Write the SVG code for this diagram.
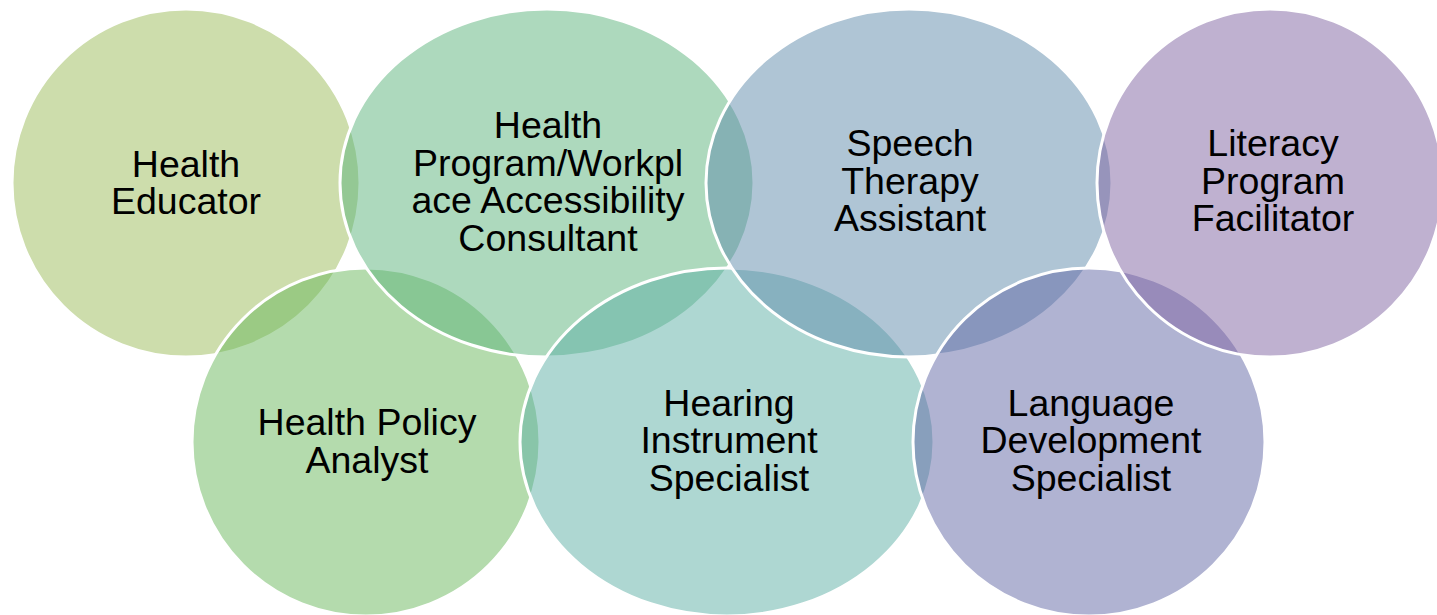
<svg xmlns="http://www.w3.org/2000/svg" width="1437" height="615" viewBox="0 0 1437 615">
<style>
.c{fill-opacity:0.5;stroke:#FFFFFF;stroke-width:3}
.t{font-family:"Liberation Sans",Arial,sans-serif;font-size:37.5px;fill:#000000;text-anchor:middle}
</style>
<rect x="0" y="0" width="1437" height="615" fill="#FFFFFF"/>
<g id="node-health-educator">
<ellipse class="c" cx="186" cy="183" rx="174" ry="174" fill="#9BBB59"/>
<text class="t"><tspan x="186" y="176.5">Health</tspan><tspan x="186" y="214">Educator</tspan></text>
</g>
<g id="node-health-policy-analyst">
<ellipse class="c" cx="366" cy="442" rx="174" ry="174" fill="#69B75B"/>
<text class="t"><tspan x="367" y="435">Health Policy</tspan><tspan x="367" y="472.5">Analyst</tspan></text>
</g>
<g id="node-health-program-consultant">
<ellipse class="c" cx="547" cy="183" rx="207" ry="174" fill="#5CB37C"/>
<text class="t"><tspan x="548" y="138">Health</tspan><tspan x="548" y="175.5">Program/Workpl</tspan><tspan x="548" y="213">ace Accessibility</tspan><tspan x="548" y="250.5">Consultant</tspan></text>
</g>
<g id="node-hearing-instrument-specialist">
<ellipse class="c" cx="727" cy="442" rx="207" ry="174" fill="#5EAFA6"/>
<text class="t"><tspan x="729" y="415.5">Hearing</tspan><tspan x="729" y="453">Instrument</tspan><tspan x="729" y="490.5">Specialist</tspan></text>
</g>
<g id="node-speech-therapy-assistant">
<ellipse class="c" cx="909" cy="183" rx="203" ry="174" fill="#608CAB"/>
<text class="t"><tspan x="910" y="156">Speech</tspan><tspan x="910" y="193.5">Therapy</tspan><tspan x="910" y="231">Assistant</tspan></text>
</g>
<g id="node-language-development-specialist">
<ellipse class="c" cx="1089" cy="442" rx="176" ry="174" fill="#6267A6"/>
<text class="t"><tspan x="1091" y="415.5">Language</tspan><tspan x="1091" y="453">Development</tspan><tspan x="1091" y="490.5">Specialist</tspan></text>
</g>
<g id="node-literacy-program-facilitator">
<ellipse class="c" cx="1270" cy="183" rx="173" ry="174" fill="#8064A2"/>
<text class="t"><tspan x="1273" y="156">Literacy</tspan><tspan x="1273" y="193.5">Program</tspan><tspan x="1273" y="231">Facilitator</tspan></text>
</g>
<g id="connectors"></g>
</svg>
